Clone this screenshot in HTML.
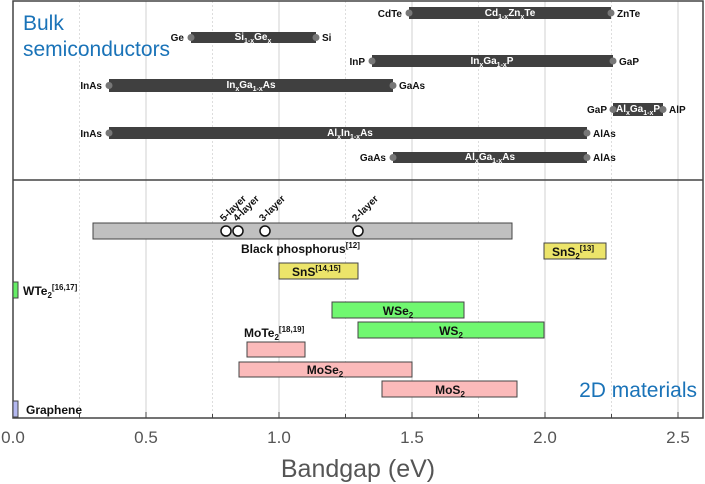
<!DOCTYPE html>
<html><head><meta charset="utf-8"><style>
html,body{margin:0;padding:0;background:#fff}
svg{display:block;font-family:"Liberation Sans",Arial,sans-serif}
.b{font-weight:bold;font-size:10px;fill:#111}
.w{font-weight:bold;font-size:10px;fill:#fff}
.t{font-weight:bold;font-size:12px;fill:#111}
</style></head><body>
<svg width="705" height="484" viewBox="0 0 705 484">
<g stroke="#d0d0d0" stroke-width="1">
<line x1="146" y1="1" x2="146" y2="418"/><line x1="279" y1="1" x2="279" y2="418"/>
<line x1="412" y1="1" x2="412" y2="418"/><line x1="545" y1="1" x2="545" y2="418"/>
<line x1="678" y1="1" x2="678" y2="418"/>
</g>
<g stroke="#ddd" stroke-width="1" stroke-dasharray="2,2">
<line x1="79.5" y1="1" x2="79.5" y2="418"/><line x1="212.5" y1="1" x2="212.5" y2="418"/>
<line x1="345.5" y1="1" x2="345.5" y2="418"/><line x1="478.5" y1="1" x2="478.5" y2="418"/>
<line x1="611.5" y1="1" x2="611.5" y2="418"/>
</g>
<rect x="13" y="1" width="690" height="417" fill="none" stroke="#444" stroke-width="1.5"/>
<line x1="13" y1="180" x2="703" y2="180" stroke="#444" stroke-width="1.5"/>
<g stroke="#444" stroke-width="1">
<line x1="79.5" y1="418" x2="79.5" y2="414"/><line x1="212.5" y1="418" x2="212.5" y2="414"/>
<line x1="345.5" y1="418" x2="345.5" y2="414"/><line x1="478.5" y1="418" x2="478.5" y2="414"/>
<line x1="611.5" y1="418" x2="611.5" y2="414"/>
<line x1="146" y1="418" x2="146" y2="412"/><line x1="279" y1="418" x2="279" y2="412"/>
<line x1="412" y1="418" x2="412" y2="412"/><line x1="545" y1="418" x2="545" y2="412"/>
<line x1="678" y1="418" x2="678" y2="412"/>
</g>
<text x="23" y="30" font-size="21" fill="#1a73b8">Bulk</text>
<text x="23" y="56" font-size="21" fill="#1a73b8">semiconductors</text>
<text x="697" y="397" font-size="21" fill="#1a73b8" text-anchor="end">2D materials</text>
<!-- bulk bars -->
<g fill="#404040">
<rect x="191" y="32" width="125" height="11"/>
<rect x="409" y="7" width="202" height="12"/>
<rect x="372" y="55" width="241" height="12"/>
<rect x="109" y="79" width="284" height="13"/>
<rect x="613" y="103" width="50" height="13"/>
<rect x="109" y="127" width="478" height="12"/>
<rect x="393" y="152" width="194" height="11"/>
</g>
<g fill="#777">
<circle cx="191" cy="37.5" r="3.5"/><circle cx="316" cy="37.5" r="3.5"/>
<circle cx="409" cy="13" r="3.5"/><circle cx="611" cy="13" r="3.5"/>
<circle cx="372" cy="61" r="3.5"/><circle cx="613" cy="61" r="3.5"/>
<circle cx="109" cy="85.5" r="3.5"/><circle cx="393" cy="85.5" r="3.5"/>
<circle cx="613" cy="109.5" r="3.5"/><circle cx="663" cy="109.5" r="3.5"/>
<circle cx="109" cy="133" r="3.5"/><circle cx="587" cy="133" r="3.5"/>
<circle cx="393" cy="157.5" r="3.5"/><circle cx="587" cy="157.5" r="3.5"/>
</g>
<text class="w" x="253" y="40" text-anchor="middle">Si<tspan font-size="7" dy="3">1-x</tspan><tspan dy="-3">Ge</tspan><tspan font-size="7" dy="3">x</tspan></text>
<text class="w" x="510" y="16" text-anchor="middle">Cd<tspan font-size="7" dy="3">1-x</tspan><tspan dy="-3">Zn</tspan><tspan font-size="7" dy="3">x</tspan><tspan dy="-3">Te</tspan></text>
<text class="w" x="492" y="64" text-anchor="middle">In<tspan font-size="7" dy="3">x</tspan><tspan dy="-3">Ga</tspan><tspan font-size="7" dy="3">1-x</tspan><tspan dy="-3">P</tspan></text>
<text class="w" x="251" y="88" text-anchor="middle">In<tspan font-size="7" dy="3">x</tspan><tspan dy="-3">Ga</tspan><tspan font-size="7" dy="3">1-x</tspan><tspan dy="-3">As</tspan></text>
<text class="w" x="638" y="112" text-anchor="middle">Al<tspan font-size="7" dy="3">x</tspan><tspan dy="-3">Ga</tspan><tspan font-size="7" dy="3">1-x</tspan><tspan dy="-3">P</tspan></text>
<text class="w" x="350" y="136" text-anchor="middle">Al<tspan font-size="7" dy="3">x</tspan><tspan dy="-3">In</tspan><tspan font-size="7" dy="3">1-x</tspan><tspan dy="-3">As</tspan></text>
<text class="w" x="490" y="160" text-anchor="middle">Al<tspan font-size="7" dy="3">x</tspan><tspan dy="-3">Ga</tspan><tspan font-size="7" dy="3">1-x</tspan><tspan dy="-3">As</tspan></text>
<g class="b">
<text x="184" y="41" text-anchor="end">Ge</text><text x="322" y="41">Si</text>
<text x="402" y="17" text-anchor="end">CdTe</text><text x="617" y="17">ZnTe</text>
<text x="365" y="65" text-anchor="end">InP</text><text x="619" y="65">GaP</text>
<text x="102" y="89" text-anchor="end">InAs</text><text x="399" y="89">GaAs</text>
<text x="607" y="113" text-anchor="end">GaP</text><text x="669" y="113">AlP</text>
<text x="102" y="137" text-anchor="end">InAs</text><text x="593" y="137">AlAs</text>
<text x="386" y="161" text-anchor="end">GaAs</text><text x="593" y="161">AlAs</text>
</g>
<!-- 2D -->
<g stroke="#444" stroke-width="1">
<rect x="93" y="223" width="419" height="16" fill="#c0c0c0"/>
<rect x="544" y="243" width="62" height="16" fill="#ece46a"/>
<rect x="279" y="263" width="79" height="16" fill="#ece46a"/>
<rect x="13" y="282" width="5" height="16" fill="#66ee66"/>
<rect x="332" y="302" width="132" height="16" fill="#70f870"/>
<rect x="358" y="322" width="186" height="16" fill="#70f870"/>
<rect x="247" y="342" width="58" height="15" fill="#fbbaba"/>
<rect x="239" y="362" width="173" height="15" fill="#fbbaba"/>
<rect x="382" y="381" width="135" height="16" fill="#fbbaba"/>
<rect x="13" y="401" width="5" height="16" fill="#b4b8f0"/>
</g>
<g fill="#fff" stroke="#111" stroke-width="1.5">
<circle cx="226" cy="231" r="5"/><circle cx="238" cy="231" r="5"/>
<circle cx="265" cy="231" r="5"/><circle cx="358" cy="231" r="5"/>
</g>
<g font-size="10" font-weight="bold" fill="#111">
<text transform="translate(224,222) rotate(-45)">5-layer</text>
<text transform="translate(237,222) rotate(-45)">4-layer</text>
<text transform="translate(263,222) rotate(-45)">3-layer</text>
<text transform="translate(356,222) rotate(-45)">2-layer</text>
</g>
<g class="t">
<text x="241" y="253">Black phosphorus<tspan font-size="8" dy="-5">[12]</tspan></text>
<text x="552" y="256">SnS<tspan font-size="8" dy="3">2</tspan><tspan font-size="8" dy="-8">[13]</tspan></text>
<text x="292" y="276">SnS<tspan font-size="8" dy="-5">[14,15]</tspan></text>
<text x="23" y="295">WTe<tspan font-size="8" dy="3">2</tspan><tspan font-size="8" dy="-8">[16,17]</tspan></text>
<text x="398" y="315" text-anchor="middle">WSe<tspan font-size="8" dy="3">2</tspan></text>
<text x="451" y="335" text-anchor="middle">WS<tspan font-size="8" dy="3">2</tspan></text>
<text x="244" y="337">MoTe<tspan font-size="8" dy="3">2</tspan><tspan font-size="8" dy="-8">[18,19]</tspan></text>
<text x="325" y="374" text-anchor="middle">MoSe<tspan font-size="8" dy="3">2</tspan></text>
<text x="450" y="394" text-anchor="middle">MoS<tspan font-size="8" dy="3">2</tspan></text>
<text x="26" y="414">Graphene</text>
</g>
<g font-size="17" fill="#555" text-anchor="middle">
<text x="13" y="443">0.0</text><text x="146" y="443">0.5</text><text x="279" y="443">1.0</text>
<text x="412" y="443">1.5</text><text x="545" y="443">2.0</text><text x="678" y="443">2.5</text>
</g>
<text x="358" y="477" font-size="25" fill="#555" text-anchor="middle">Bandgap (eV)</text>
</svg>
</body></html>
